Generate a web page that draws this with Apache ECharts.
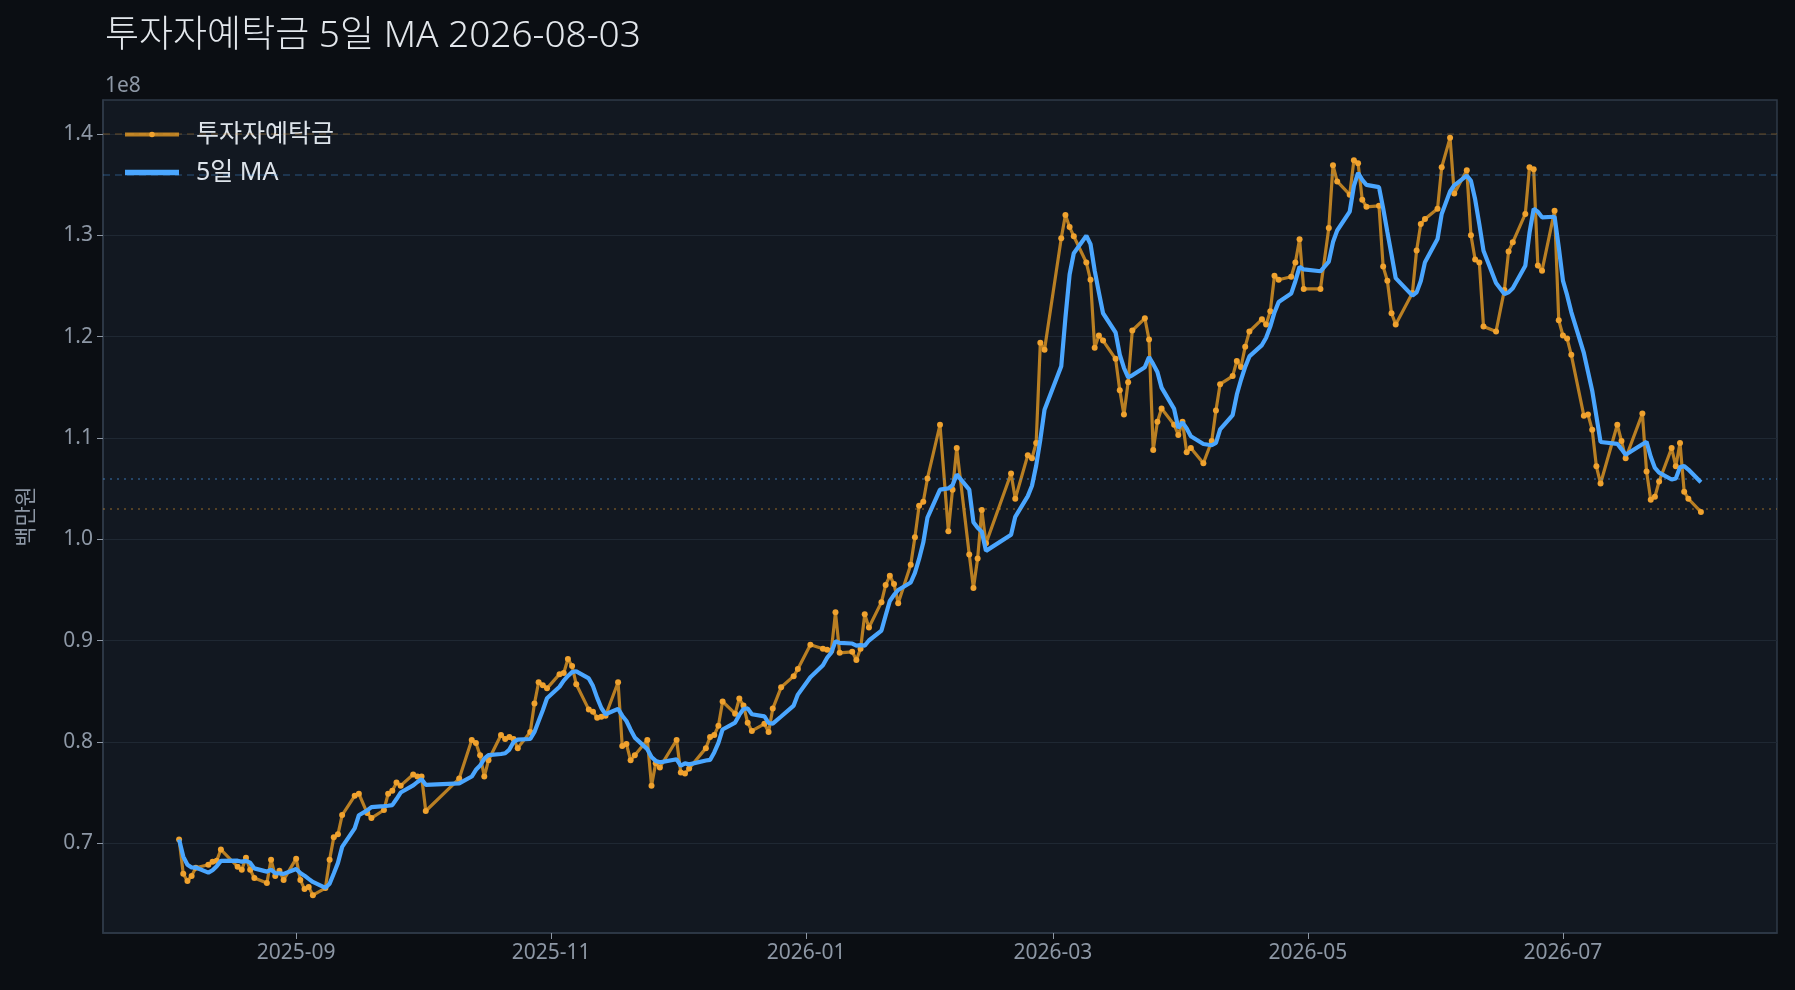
<!DOCTYPE html>
<html>
<head>
<meta charset="utf-8">
<title>투자자예탁금 5일 MA</title>
<script src="https://cdn.jsdelivr.net/npm/echarts@6/dist/echarts.min.js"></script>
<style>
  html, body { margin: 0; padding: 0; background: #0b0e13; }
  #chart { width: 1795px; height: 990px; }
</style>
</head>
<body>
<div id="chart"></div>
<script>
// trading days
var dates = [
  '2025-08-04','2025-08-05','2025-08-06','2025-08-07','2025-08-08','2025-08-11','2025-08-12','2025-08-13','2025-08-14',
  '2025-08-18','2025-08-19','2025-08-20','2025-08-21','2025-08-22','2025-08-25','2025-08-26','2025-08-27','2025-08-28','2025-08-29',
  '2025-09-01','2025-09-02','2025-09-03','2025-09-04','2025-09-05','2025-09-08','2025-09-09','2025-09-10','2025-09-11','2025-09-12',
  '2025-09-15','2025-09-16','2025-09-18','2025-09-19','2025-09-22','2025-09-23','2025-09-24','2025-09-25','2025-09-26','2025-09-29','2025-09-30',
  '2025-10-01','2025-10-02','2025-10-10','2025-10-13','2025-10-14','2025-10-15','2025-10-16','2025-10-17','2025-10-20','2025-10-21',
  '2025-10-22','2025-10-23','2025-10-24','2025-10-27','2025-10-28','2025-10-29','2025-10-30','2025-10-31',
  '2025-11-03','2025-11-04','2025-11-05','2025-11-06','2025-11-07','2025-11-10','2025-11-11','2025-11-12','2025-11-13','2025-11-14',
  '2025-11-17','2025-11-18','2025-11-19','2025-11-20','2025-11-21','2025-11-24','2025-11-25','2025-11-26','2025-11-27',
  '2025-12-01','2025-12-02','2025-12-03','2025-12-04','2025-12-08','2025-12-09','2025-12-10','2025-12-11','2025-12-12',
  '2025-12-15','2025-12-16','2025-12-17','2025-12-18','2025-12-19','2025-12-22','2025-12-23','2025-12-24','2025-12-26','2025-12-29','2025-12-30',
  '2026-01-02','2026-01-05','2026-01-06','2026-01-07','2026-01-08','2026-01-09','2026-01-12','2026-01-13','2026-01-14','2026-01-15','2026-01-16',
  '2026-01-19','2026-01-20','2026-01-21','2026-01-22','2026-01-23','2026-01-26','2026-01-27','2026-01-28','2026-01-29','2026-01-30',
  '2026-02-02','2026-02-04','2026-02-05','2026-02-06','2026-02-09','2026-02-10','2026-02-11','2026-02-12','2026-02-13',
  '2026-02-19','2026-02-20','2026-02-23','2026-02-24','2026-02-25','2026-02-26','2026-02-27',
  '2026-03-03','2026-03-04','2026-03-05','2026-03-06','2026-03-09','2026-03-10','2026-03-11','2026-03-12','2026-03-13',
  '2026-03-16','2026-03-17','2026-03-18','2026-03-19','2026-03-20','2026-03-23','2026-03-24','2026-03-25','2026-03-26','2026-03-27','2026-03-30','2026-03-31',
  '2026-04-01','2026-04-02','2026-04-03','2026-04-06','2026-04-08','2026-04-09','2026-04-10','2026-04-13','2026-04-14','2026-04-15','2026-04-16','2026-04-17',
  '2026-04-20','2026-04-21','2026-04-22','2026-04-23','2026-04-24','2026-04-27','2026-04-28','2026-04-29','2026-04-30',
  '2026-05-04','2026-05-06','2026-05-07','2026-05-08','2026-05-11','2026-05-12','2026-05-13','2026-05-14','2026-05-15',
  '2026-05-18','2026-05-19','2026-05-20','2026-05-21','2026-05-22','2026-05-26','2026-05-27','2026-05-28','2026-05-29',
  '2026-06-01','2026-06-02','2026-06-04','2026-06-05','2026-06-08','2026-06-09','2026-06-10','2026-06-11','2026-06-12',
  '2026-06-15','2026-06-17','2026-06-18','2026-06-19','2026-06-22','2026-06-23','2026-06-24','2026-06-25','2026-06-26','2026-06-29','2026-06-30',
  '2026-07-01','2026-07-02','2026-07-03','2026-07-06','2026-07-07','2026-07-08','2026-07-09','2026-07-10','2026-07-14','2026-07-15','2026-07-16',
  '2026-07-20','2026-07-21','2026-07-22','2026-07-23','2026-07-24','2026-07-27','2026-07-28','2026-07-29','2026-07-30','2026-07-31',
  '2026-08-03'
];

// 투자자예탁금, in units of 1e8 백만원
var deposits = [
  0.704,0.670,0.663,0.668,0.676,0.679,0.682,0.683,0.694,
  0.677,0.674,0.686,0.674,0.666,0.661,0.684,0.668,0.673,0.664,
  0.685,0.664,0.655,0.657,0.649,0.656,0.684,0.706,0.709,0.728,
  0.747,0.749,0.730,0.725,0.733,0.749,0.752,0.760,0.757,0.768,0.766,
  0.766,0.732,0.764,0.802,0.799,0.787,0.766,0.782,0.807,0.803,
  0.805,0.803,0.794,0.810,0.838,0.859,0.856,0.853,
  0.867,0.868,0.882,0.875,0.857,0.832,0.830,0.824,0.825,0.826,
  0.859,0.796,0.798,0.782,0.787,0.802,0.757,0.779,0.775,
  0.802,0.770,0.769,0.774,0.794,0.805,0.807,0.816,0.840,
  0.828,0.843,0.836,0.819,0.811,0.818,0.810,0.833,0.854,0.865,0.872,
  0.896,0.892,0.891,0.890,0.928,0.888,0.889,0.881,0.892,0.926,0.913,
  0.938,0.955,0.964,0.956,0.937,0.975,1.002,1.033,1.037,1.060,
  1.113,1.008,1.049,1.090,0.985,0.952,0.981,1.029,0.996,
  1.065,1.040,1.083,1.080,1.095,1.194,1.187,
  1.297,1.320,1.308,1.299,1.273,1.256,1.189,1.201,1.196,
  1.178,1.147,1.123,1.155,1.206,1.218,1.197,1.088,1.116,1.129,1.113,1.103,
  1.116,1.086,1.090,1.075,1.097,1.127,1.153,1.161,1.176,1.170,1.190,1.205,
  1.217,1.212,1.225,1.260,1.256,1.259,1.273,1.296,1.247,
  1.247,1.307,1.369,1.353,1.340,1.374,1.371,1.335,1.328,
  1.329,1.269,1.255,1.223,1.212,1.243,1.285,1.311,1.316,
  1.326,1.367,1.396,1.341,1.364,1.300,1.276,1.273,1.210,
  1.205,1.246,1.284,1.293,1.321,1.367,1.365,1.270,1.265,1.324,1.216,
  1.201,1.198,1.182,1.122,1.123,1.108,1.072,1.055,1.113,1.097,1.080,
  1.124,1.067,1.039,1.042,1.057,1.090,1.072,1.095,1.047,1.040,
  1.027
];

var xTickDates = ['2025-09-01','2025-11-01','2026-01-01','2026-03-01','2026-05-01','2026-07-01'];
var yTicks = [0.7, 0.8, 0.9, 1.0, 1.1, 1.2, 1.3, 1.4];

var FONT = '"Noto Sans", "Noto Sans CJK KR", sans-serif';
var TICK_COLOR = '#8d97a5';
var BORDER = '#2f3a48';
var ORANGE = '#f0a22e';
var BLUE = '#4aa6ff';

function toTs(s) {
  var p = s.split('-');
  return Date.UTC(+p[0], +p[1] - 1, +p[2]);
}

function fmtMonth(v) {
  var d = new Date(v);
  var m = d.getUTCMonth() + 1;
  return d.getUTCFullYear() + '-' + (m < 10 ? '0' + m : m);
}

// 5-day rolling mean of the deposits (min periods 1)
var ma5 = deposits.map(function(v, i) {
  var from = Math.max(0, i - 4), sum = 0;
  for (var k = from; k <= i; k++) sum += deposits[k];
  return sum / (i - from + 1);
});

var xs = dates.map(toTs);
var xSpan = xs[xs.length - 1] - xs[0];
var allY = deposits.concat(ma5);
var yLo = Math.min.apply(null, allY), yHi = Math.max.apply(null, allY);
var ySpan = yHi - yLo;

var lastDep = deposits[deposits.length - 1];
var lastMa = ma5[ma5.length - 1];
var maxDep = Math.max.apply(null, deposits);
var maxMa = Math.max.apply(null, ma5);

var xTicks = xTickDates.map(toTs);

var chart = echarts.init(document.getElementById('chart'));
chart.setOption({
  backgroundColor: '#0b0e13',
  animation: false,
  textStyle: { fontFamily: FONT },
  title: {
    text: '투자자예탁금 5일 MA 2026-08-03',
    left: 100,
    top: 13,
    textStyle: { color: '#e3e7ec', fontSize: 37, fontWeight: 300, fontFamily: FONT }
  },
  graphic: [{
    type: 'text',
    left: 105,
    top: 76,
    style: { text: '1e8', fill: TICK_COLOR, fontSize: 21, fontFamily: FONT }
  }],
  legend: {
    orient: 'vertical',
    left: 118,
    top: 117,
    itemWidth: 54,
    itemHeight: 7,
    itemGap: 13,
    textStyle: { color: '#dde3ea', fontSize: 25, fontFamily: FONT, padding: [0, 0, 0, 12] },
    data: [
      { name: '투자자예탁금', lineStyle: { width: 4 } },
      { name: '5일 MA', icon: 'path://M0,0h54v5.5h-54z' }
    ]
  },
  grid: {
    left: 103, top: 100, right: 18, bottom: 57,
    show: true,
    backgroundColor: '#121821',
    borderColor: BORDER,
    borderWidth: 1.5
  },
  xAxis: {
    type: 'value',
    min: xs[0] - 0.05 * xSpan,
    max: xs[xs.length - 1] + 0.05 * xSpan,
    axisLine: { show: true, onZero: false, lineStyle: { color: BORDER, width: 1.5 } },
    axisTick: { show: true, customValues: xTicks, length: 6, lineStyle: { color: TICK_COLOR } },
    axisLabel: {
      customValues: xTicks,
      color: TICK_COLOR, fontSize: 21, margin: 10, fontFamily: FONT,
      formatter: fmtMonth
    },
    splitLine: { show: false }
  },
  yAxis: {
    type: 'value',
    min: yLo - 0.05 * ySpan,
    max: yHi + 0.05 * ySpan,
    splitNumber: 8,
    name: '백만원',
    nameLocation: 'middle',
    nameRotate: 90,
    nameGap: 65,
    nameTextStyle: { color: TICK_COLOR, fontSize: 22, fontFamily: FONT },
    axisLine: { show: true, lineStyle: { color: BORDER, width: 1.5 } },
    axisTick: { show: true, customValues: yTicks, length: 6, lineStyle: { color: TICK_COLOR } },
    axisLabel: {
      customValues: yTicks,
      color: TICK_COLOR, fontSize: 21, margin: 10, fontFamily: FONT,
      formatter: function(v) { return v.toFixed(1); }
    },
    splitLine: { show: true, lineStyle: { color: '#1f2833', width: 1.2 } }
  },
  series: [
    {
      name: '투자자예탁금',
      type: 'line',
      data: dates.map(function(d, i) { return [xs[i], deposits[i]]; }),
      symbol: 'circle',
      symbolSize: 6,
      showSymbol: true,
      showAllSymbol: true,
      lineStyle: { color: 'rgba(232,156,36,0.78)', width: 3.2 },
      itemStyle: { color: ORANGE },
      z: 2,
      markLine: {
        silent: true,
        symbol: 'none',
        label: { show: false },
        data: [
          { yAxis: maxDep, lineStyle: { color: 'rgba(240,162,46,0.25)', type: [7, 5], width: 1.5 } },
          { yAxis: lastDep, lineStyle: { color: 'rgba(240,162,46,0.3)', type: [2, 5], width: 1.8 } }
        ]
      }
    },
    {
      name: '5일 MA',
      type: 'line',
      data: dates.map(function(d, i) { return [xs[i], ma5[i]]; }),
      symbol: 'none',
      lineStyle: { color: BLUE, width: 4.2 },
      itemStyle: { color: BLUE },
      z: 3,
      markLine: {
        silent: true,
        symbol: 'none',
        label: { show: false },
        data: [
          { yAxis: maxMa, lineStyle: { color: 'rgba(74,166,255,0.28)', type: [7, 5], width: 1.5 } },
          { yAxis: lastMa, lineStyle: { color: 'rgba(74,166,255,0.32)', type: [2, 5], width: 1.8 } }
        ]
      }
    }
  ]
});
</script>
</body>
</html>
